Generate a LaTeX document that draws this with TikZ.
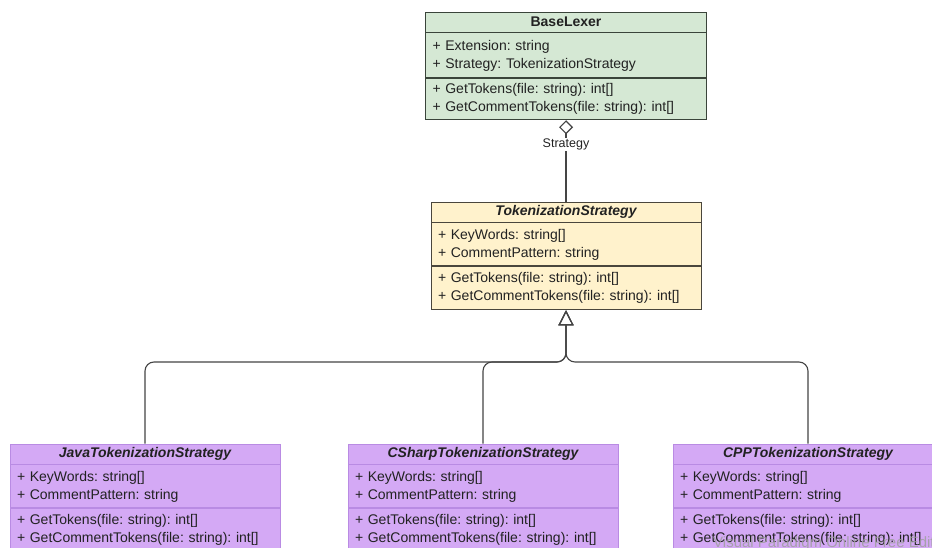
\documentclass[tikz,border=0pt]{standalone}
\usepackage{fontspec}
\setmainfont{Liberation Sans}
\frenchspacing
\usetikzlibrary{arrows.meta,positioning}
\definecolor{lexfill}{HTML}{D5E8D4}
\definecolor{lexline}{HTML}{3A443A}
\definecolor{stratfill}{HTML}{FFF2CC}
\definecolor{stratline}{HTML}{4A463C}
\definecolor{subfill}{HTML}{D4A9F5}
\definecolor{subline}{HTML}{B98BE3}
\definecolor{wire}{HTML}{454545}
\definecolor{ink}{HTML}{222222}
\tikzset{head/.style={minimum width=270pt,minimum height=20pt,inner sep=0pt,text=ink,font=\fontsize{14}{18}\selectfont\bfseries},sect/.style={text width=256pt,inner xsep=7pt,inner ysep=0pt,minimum height=43pt,align=left,text=ink,font=\fontsize{14}{18}\selectfont},lex/.style={fill=lexfill,draw=lexline,line width=0.9pt},strat/.style={fill=stratfill,draw=stratline,line width=0.9pt},sub/.style={fill=subfill,draw=subline,line width=0.9pt},agg/.style={{Diamond[open,length=14pt,width=14pt]}-,line width=1.1pt,draw=wire},inh/.style={-{Triangle[open,length=15pt,width=15pt]},line width=1.1pt,draw=wire,rounded corners=9pt},role/.style={fill=white,inner sep=1pt,text=ink,font=\fontsize{12.5}{14}\selectfont},wmark/.style={text=gray!75,opacity=0.85,inner sep=0pt,font=\fontsize{15}{16}\selectfont}}
\begin{document}
\begin{tikzpicture}[x=1pt,y=-1pt]
\fill[white] (0,0) rectangle (932,548);
\useasboundingbox (0,0) rectangle (932,548);
\clip (0,0) rectangle (932,548);
\node[head,lex,minimum width=281pt] (lexer) at (566,22) {BaseLexer};
\node[sect,lex,text width=267pt,minimum height=45pt,below=0pt of lexer] (lexattr) {+ Extension: string\\+ Strategy: TokenizationStrategy};
\node[sect,lex,text width=267pt,minimum height=41pt,below=0pt of lexattr] (lexops) {+ GetTokens(file: string): int[]\\+ GetCommentTokens(file: string): int[]};
\node[head,strat] (strat) at (566,212) {\itshape TokenizationStrategy};
\node[sect,strat,below=0pt of strat] (stratattr) {+ KeyWords: string[]\\+ CommentPattern: string};
\node[sect,strat,below=0pt of stratattr] (stratops) {+ GetTokens(file: string): int[]\\+ GetCommentTokens(file: string): int[]};
\node[head,sub] (java) at (145,454) {\itshape JavaTokenizationStrategy};
\node[sect,sub,below=0pt of java] (javaattr) {+ KeyWords: string[]\\+ CommentPattern: string};
\node[sect,sub,below=0pt of javaattr] (javaops) {+ GetTokens(file: string): int[]\\+ GetCommentTokens(file: string): int[]};
\node[head,sub] (csharp) at (483,454) {\itshape CSharpTokenizationStrategy};
\node[sect,sub,below=0pt of csharp] (csharpattr) {+ KeyWords: string[]\\+ CommentPattern: string};
\node[sect,sub,below=0pt of csharpattr] (csharpops) {+ GetTokens(file: string): int[]\\+ GetCommentTokens(file: string): int[]};
\node[head,sub] (cpp) at (808,454) {\itshape CPPTokenizationStrategy};
\node[sect,sub,below=0pt of cpp] (cppattr) {+ KeyWords: string[]\\+ CommentPattern: string};
\node[sect,sub,below=0pt of cppattr] (cppops) {+ GetTokens(file: string): int[]\\+ GetCommentTokens(file: string): int[]};
\coordinate (fork) at (566,362);
\draw[agg] (lexops.south) -- node[role,pos=0.3] (rolename) {Strategy} (strat.north);
\draw[inh] (java.north) |- (fork) -- (stratops.south);\draw[inh] (csharp.north) |- (fork) -- (stratops.south);\draw[inh] (cpp.north) |- (fork) -- (stratops.south);
\node[wmark,anchor=base west] (wm) at (713,547) {Visual Paradigm Online Free Edition};
\end{tikzpicture}
\end{document}
